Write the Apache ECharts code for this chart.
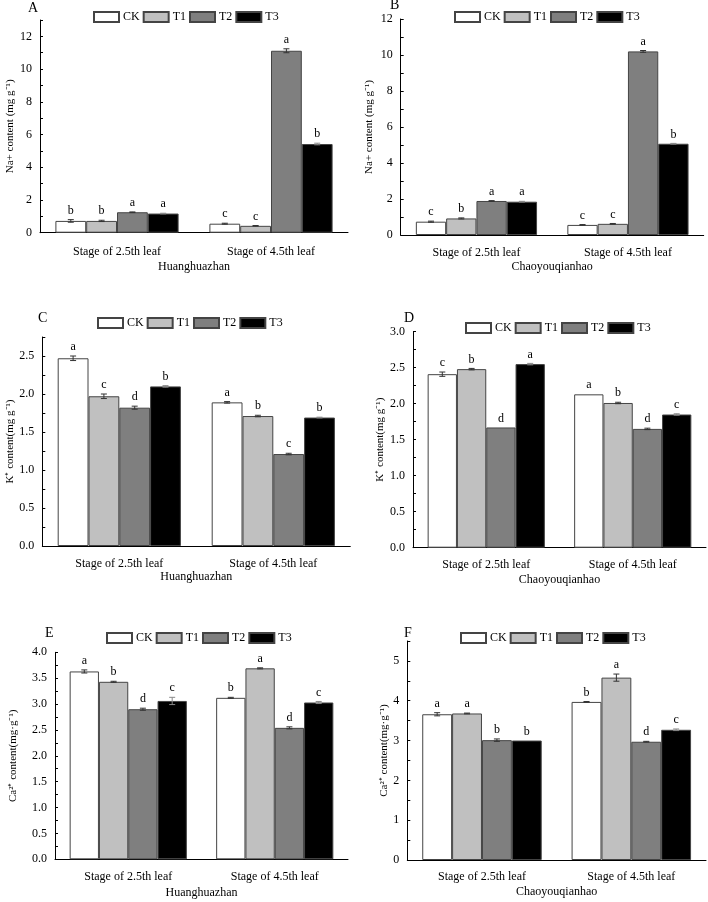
<!DOCTYPE html>
<html>
<head>
<meta charset="utf-8">
<script src="https://cdn.jsdelivr.net/npm/echarts@6/dist/echarts.min.js"></script>
<style>html,body{margin:0;padding:0;background:#fff;}#chart{width:708px;height:902px;}</style>
</head>
<body>
<div id="chart"></div>
<script>
const categories = ['Stage of 2.5th leaf', 'Stage of 4.5th leaf'];
const seriesNames = ['CK', 'T1', 'T2', 'T3'];
const seriesColors = ['#ffffff', '#c0c0c0', '#7f7f7f', '#000000'];

// Panel A: Na+ Huanghuazhan
const A_CK = [0.72, 0.55], A_T1 = [0.72, 0.42], A_T2 = [1.25, 11.12], A_T3 = [1.17, 5.42];
const A_err = [[0.08, 0.03], [0.04, 0.02], [0.02, 0.12], [0.02, 0.05]];
const A_let = [['b', 'c'], ['b', 'c'], ['a', 'a'], ['a', 'b']];
// Panel B: Na+ Chaoyouqianhao
const B_CK = [0.74, 0.56], B_T1 = [0.92, 0.62], B_T2 = [1.89, 10.2], B_T3 = [1.85, 5.07];
const B_err = [[0.03, 0.02], [0.03, 0.02], [0.02, 0.05], [0.02, 0.02]];
const B_let = [['c', 'c'], ['b', 'c'], ['a', 'a'], ['a', 'b']];
// Panel C: K+ Huanghuazhan
const C_CK = [2.47, 1.89], C_T1 = [1.97, 1.71], C_T2 = [1.82, 1.21], C_T3 = [2.1, 1.69];
const C_err = [[0.03, 0.01], [0.03, 0.01], [0.02, 0.01], [0.01, 0.005]];
const C_let = [['a', 'a'], ['c', 'b'], ['d', 'c'], ['b', 'b']];
// Panel D: K+ Chaoyouqianhao
const D_CK = [2.41, 2.13], D_T1 = [2.48, 2.01], D_T2 = [1.67, 1.65], D_T3 = [2.55, 1.85];
const D_err = [[0.03, 0.0], [0.01, 0.01], [0.0, 0.01], [0.01, 0.01]];
const D_let = [['c', 'a'], ['b', 'b'], ['d', 'd'], ['a', 'c']];
// Panel E: Ca2+ Huanghuazhan
const E_CK = [3.63, 3.12], E_T1 = [3.43, 3.69], E_T2 = [2.9, 2.54], E_T3 = [3.06, 3.03];
const E_err = [[0.03, 0.01], [0.01, 0.01], [0.02, 0.02], [0.07, 0.02]];
const E_let = [['a', 'b'], ['b', 'a'], ['d', 'd'], ['c', 'c']];
// Panel F: Ca2+ Chaoyouqianhao
const F_CK = [3.66, 3.97], F_T1 = [3.68, 4.58], F_T2 = [3.01, 2.97], F_T3 = [3.0, 3.27];
const F_err = [[0.04, 0.01], [0.01, 0.09], [0.03, 0.01], [0.0, 0.02]];
const F_let = [['a', 'b'], ['a', 'a'], ['b', 'd'], ['b', 'c']];

const panelLabels = ['A', 'B', 'C', 'D', 'E', 'F'];
const yNames = ['Na+ content (mg g\u207B\u00B9)', 'Na+ content (mg g\u207B\u00B9)',
  'K\u207A content(mg g\u207B\u00B9)', 'K\u207A content(mg g\u207B\u00B9)',
  'Ca\u00B2\u207A content(mg\u00B7g\u207B\u00B9)', 'Ca\u00B2\u207A content(mg\u00B7g\u207B\u00B9)'];
const xNames = ['Huanghuazhan', 'Chaoyouqianhao', 'Huanghuazhan', 'Chaoyouqianhao', 'Huanghuazhan', 'Chaoyouqianhao'];

const FONT = 'Liberation Serif';

const panels = [
  {vals: [A_CK, A_T1, A_T2, A_T3], err: A_err, let: A_let, grid: {left: 40, top: 20, width: 308, height: 212.7}, max: 13, interval: 1, lab: v => (v % 2 === 0 && v <= 12) ? String(v) : '', nameGap: 24, xLabM: 13, xNameGap: 28, legend: {left: 93, top: 11}, pl: [28, 8]},
  {vals: [B_CK, B_T1, B_T2, B_T3], err: B_err, let: B_let, grid: {left: 400.7, top: 19, width: 303, height: 216}, max: 12, interval: 1, lab: v => (v % 2 === 0) ? String(v) : '', nameGap: 26, xLabM: 12, xNameGap: 26, legend: {left: 454, top: 11}, pl: [390, 5]},
  {vals: [C_CK, C_T1, C_T2, C_T3], err: C_err, let: C_let, grid: {left: 42.3, top: 337, width: 308, height: 209}, max: 2.75, interval: 0.25, lab: v => (Math.abs(v * 2 - Math.round(v * 2)) < 1e-6) ? v.toFixed(1) : '', nameGap: 26, xLabM: 12, xNameGap: 25, legend: {left: 97, top: 317}, pl: [38, 318]},
  {vals: [D_CK, D_T1, D_T2, D_T3], err: D_err, let: D_let, grid: {left: 413, top: 331.7, width: 293, height: 216}, max: 3, interval: 0.25, lab: v => (Math.abs(v * 2 - Math.round(v * 2)) < 1e-6) ? v.toFixed(1) : '', nameGap: 23, xLabM: 11, xNameGap: 26, legend: {left: 465, top: 322}, pl: [404, 318]},
  {vals: [E_CK, E_T1, E_T2, E_T3], err: E_err, let: E_let, grid: {left: 55, top: 652.3, width: 293, height: 207}, max: 4, interval: 0.25, lab: v => (Math.abs(v * 2 - Math.round(v * 2)) < 1e-6) ? v.toFixed(1) : '', nameGap: 36, xLabM: 12, xNameGap: 28, legend: {left: 106, top: 632}, pl: [45, 633]},
  {vals: [F_CK, F_T1, F_T2, F_T3], err: F_err, let: F_let, grid: {left: 407.3, top: 641, width: 298.7, height: 219}, max: 5.5, interval: 0.5, lab: v => (Math.abs(v - Math.round(v)) < 1e-6) ? String(Math.round(v)) : '', nameGap: 15, xLabM: 11, xNameGap: 26, legend: {left: 460, top: 632}, pl: [404, 633]}
];

const GAP = 0.2;
const grids = [], xAxes = [], yAxes = [], series = [], legends = [], graphics = [];

panels.forEach((p, pi) => {
  grids.push(Object.assign({containLabel: false}, p.grid));
  xAxes.push({
    type: 'category', gridIndex: pi, data: categories,
    axisLine: {lineStyle: {color: '#000', width: 1}}, axisTick: {show: false},
    axisLabel: {color: '#000', fontFamily: FONT, fontSize: 12, margin: p.xLabM},
    name: xNames[pi], nameLocation: 'middle', nameGap: p.xNameGap,
    nameTextStyle: {color: '#000', fontFamily: FONT, fontSize: 12}
  });
  yAxes.push({
    type: 'value', gridIndex: pi, min: 0, max: p.max, interval: p.interval,
    splitLine: {show: false},
    axisLine: {show: true, lineStyle: {color: '#000', width: 1}},
    axisTick: {show: true, inside: true, length: 3, lineStyle: {color: '#000'}},
    axisLabel: {color: '#000', fontFamily: FONT, fontSize: 12, formatter: p.lab, showMaxLabel: true},
    name: yNames[pi], nameLocation: 'middle', nameGap: p.nameGap, nameRotate: 90,
    nameTextStyle: {color: '#000', fontFamily: FONT, fontSize: 11}
  });
  p.vals.forEach((vals, si) => {
    series.push({
      type: 'bar', name: seriesNames[si], xAxisIndex: pi, yAxisIndex: pi,
      data: vals, barGap: 0, barCategoryGap: (GAP * 100) + '%',
      itemStyle: {color: seriesColors[si], borderColor: '#444', borderWidth: 1},
      emphasis: {disabled: true}, animation: false
    });
  });
  p.vals.forEach((vals, si) => {
    const errs = p.err[si], lets = p.let[si];
    series.push({
      type: 'custom', name: 'err' + pi + '_' + si, xAxisIndex: pi, yAxisIndex: pi,
      data: vals.map((v, j) => [j, v, errs[j]]),
      encode: {x: 0, y: 1}, z: 5, clip: false, animation: false, silent: true,
      renderItem: (params, api) => {
        const cat = api.value(0), v = api.value(1), e = api.value(2);
        const base = api.coord([cat, v]);
        const catW = api.size([1, 0])[0];
        const gw = catW * (1 - GAP), bw = gw / 4;
        const x = base[0] - gw / 2 + (si + 0.5) * bw;
        const yT = api.coord([cat, v + e])[1];
        const yB = api.coord([cat, v - e])[1];
        const col = si === 3 ? '#888' : '#333';
        const children = [];
        if (e > 0) {
          children.push({type: 'line', shape: {x1: x, y1: yT, x2: x, y2: yB}, style: {stroke: col, lineWidth: 1}});
          children.push({type: 'line', shape: {x1: x - 3, y1: yT, x2: x + 3, y2: yT}, style: {stroke: col, lineWidth: 1}});
          children.push({type: 'line', shape: {x1: x - 3, y1: yB, x2: x + 3, y2: yB}, style: {stroke: col, lineWidth: 1}});
        }
        children.push({type: 'text', style: {text: lets[params.dataIndex], x: x, y: yT - 3, align: 'center', verticalAlign: 'bottom', fontSize: 12, fontFamily: FONT, fill: '#000'}});
        return {type: 'group', children: children};
      }
    });
  });
  legends.push({
    data: seriesNames, left: p.legend.left, top: p.legend.top, padding: 0,
    itemWidth: 25, itemHeight: 10, itemGap: 3, icon: 'rect', selectedMode: false,
    textStyle: {color: '#000', fontFamily: FONT, fontSize: 12, padding: [0, 0, 0, -1]}
  });
  graphics.push({
    type: 'text', left: p.pl[0], top: p.pl[1] - 7,
    style: {text: panelLabels[pi], fontSize: 14, fontFamily: FONT, fontWeight: 'normal', fill: '#000'}
  });
});

const chart = echarts.init(document.getElementById('chart'));
chart.setOption({
  backgroundColor: '#fff',
  animation: false,
  grid: grids, xAxis: xAxes, yAxis: yAxes, series: series, legend: legends,
  graphic: graphics
});
</script>
</body>
</html>
